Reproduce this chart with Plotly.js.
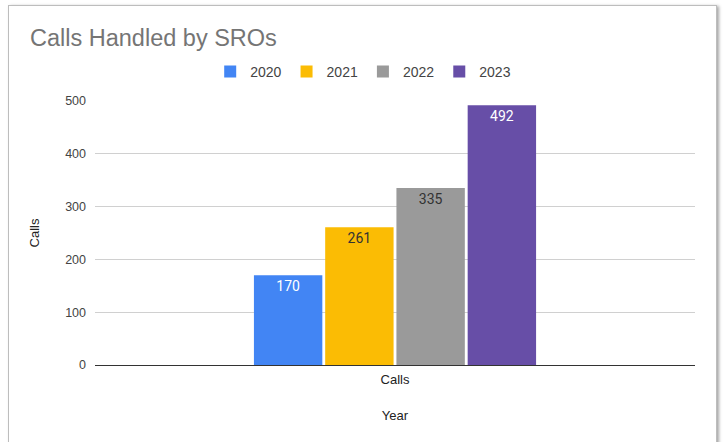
<!DOCTYPE html>
<html>
<head>
<meta charset="utf-8">
<script src="https://cdn.plot.ly/plotly-3.0.1.min.js"></script>
<style>
html,body{margin:0;padding:0;background:#fff;}
#wrap{position:relative;width:723px;height:442px;overflow:hidden;}
#chart{position:absolute;left:0;top:0;width:723px;height:442px;}
#frame{position:absolute;left:8px;top:5px;width:707px;height:460px;border:1px solid #bdbdbd;box-shadow:2px 1px 3px rgba(0,0,0,0.35);pointer-events:none;}
</style>
</head>
<body>
<div id="wrap"><div id="chart"></div><div id="frame"></div></div>
<script>
const categories = ["Calls"];
const seriesNames = ["2020", "2021", "2022", "2023"];
const values2020 = [170];
const values2021 = [261];
const values2022 = [335];
const values2023 = [492];
const seriesValues = [values2020, values2021, values2022, values2023];
const colors = ["#4285f4", "#fbbc04", "#9a9a9a", "#674ea7"];
const labelColors = ["#ffffff", "#333333", "#333333", "#ffffff"];
const yTicks = [0, 100, 200, 300, 400, 500];

const sans = "Arial, 'Liberation Sans', sans-serif";

const traces = seriesNames.map((name, i) => ({
  type: "bar",
  name: name,
  x: categories,
  y: seriesValues[i],
  text: seriesValues[i].map(String),
  textposition: "inside",
  insidetextanchor: "end",
  textangle: 0,
  textfont: {family: "Roboto, Arial, sans-serif", size: 14, color: labelColors[i]},
  marker: {color: colors[i], line: {width: 0}},
  hoverinfo: "x+y+name"
}));

const layout = {
  width: 723, height: 442,
  margin: {l: 95, r: 28, t: 101, b: 77},
  paper_bgcolor: "#ffffff", plot_bgcolor: "#ffffff",
  font: {family: sans, color: "#444444", size: 12},
  title: {text: "Calls Handled by SROs", x: 30/723, xref: "container", xanchor: "left",
          y: 1 - 38/442, yref: "container", yanchor: "middle",
          font: {family: sans, size: 23.5, color: "#757575"}},
  barmode: "group",
  bargap: 0.525,
  bargroupgap: 0.04,
  showlegend: true,
  legend: {orientation: "h", x: 0.447, xanchor: "center", y: 1.11, yanchor: "middle",
           font: {family: sans, size: 14, color: "#444444"}, itemwidth: 30, traceorder: "normal"},
  xaxis: {
    type: "category",
    showgrid: false, showline: false, zeroline: false, ticks: "",
    ticklabelstandoff: 5,
    tickfont: {family: sans, size: 13, color: "#222222"},
    title: {text: "Year", font: {family: sans, size: 13, color: "#222222"}, standoff: 24}
  },
  yaxis: {
    range: [0, 500],
    tickvals: yTicks,
    showgrid: true, gridcolor: "#d0d0d0", gridwidth: 1,
    zeroline: true, zerolinecolor: "#333333", zerolinewidth: 1,
    showline: false, ticks: "", ticklabelstandoff: 8,
    tickfont: {family: sans, size: 12.5, color: "#444444"},
    title: {text: "Calls", font: {family: sans, size: 13, color: "#222222"}, standoff: 22}
  }
};

Plotly.newPlot("chart", traces, layout, {displayModeBar: false, staticPlot: true});
</script>
</body>
</html>
